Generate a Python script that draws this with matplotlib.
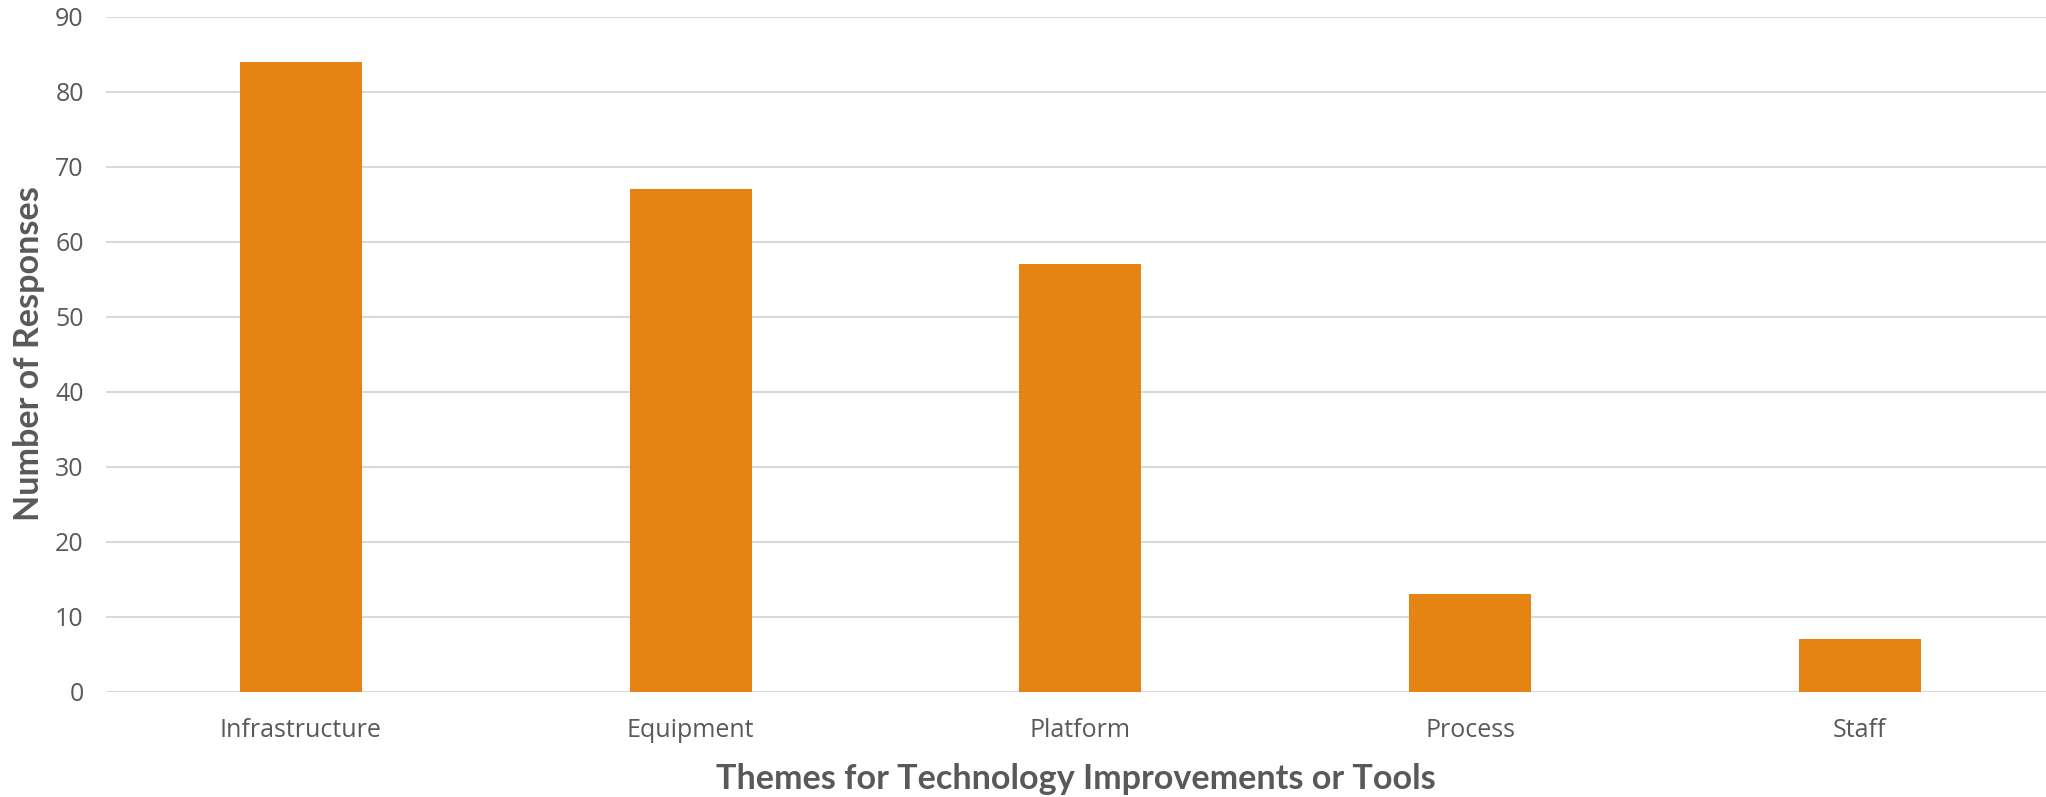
import matplotlib
matplotlib.use("Agg")
import matplotlib.pyplot as plt

categories = ["Infrastructure", "Equipment", "Platform", "Process", "Staff"]
responses = [84, 67, 57, 13, 7]
yticks = [0, 10, 20, 30, 40, 50, 60, 70, 80, 90]

plt.rcParams['font.family'] = ['Open Sans', 'DejaVu Sans']
text_color = "#595959"
bar_color = "#E58313"
grid_color = "#D9D9D9"

W, H = 2046, 797
fig = plt.figure(figsize=(W / 100, H / 100), dpi=100)
left, right = 106, 106 + 389.75 * 5
top, bottom = 16.7, 691.7
ax = fig.add_axes([left / W, 1 - bottom / H, (right - left) / W, (bottom - top) / H])

x = list(range(len(categories)))
ax.bar(x, responses, width=0.313, color=bar_color, zorder=3)
ax.set_xlim(-0.5, len(categories) - 0.5)
ax.set_ylim(0, 90)
ax.set_yticks(yticks)
ax.set_xticks(x)
ax.set_xticklabels(categories)
ax.yaxis.grid(True, color=grid_color, linewidth=1.5, zorder=0)
ax.set_axisbelow(True)
for s in ax.spines.values():
    s.set_visible(False)
ax.tick_params(axis='both', length=0, colors=text_color, labelsize=18)
ax.tick_params(axis='x', pad=19)
ax.tick_params(axis='y', pad=16)

fig.text(0.5 * (106 + 2046) / W, 1 - 779 / H, "Themes for Technology Improvements or Tools",
         ha='center', va='center', fontsize=24.6, fontweight='bold', color=text_color,
         family=['Lato', 'DejaVu Sans'])
fig.text(29 / W, 1 - 354 / H, "Number of Responses", rotation=90,
         ha='center', va='center', fontsize=24.6, fontweight='bold', color=text_color,
         family=['Lato', 'DejaVu Sans'])

fig.savefig("out.png", dpi=100)
